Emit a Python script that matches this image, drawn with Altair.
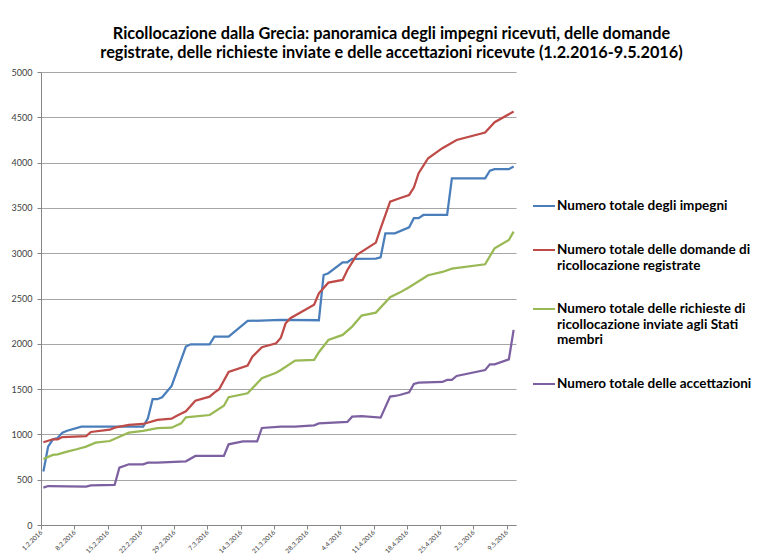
import altair as alt
import pandas as pd

# Series names (| marks a line break in the legend)
names = [
    "Numero totale degli impegni",
    "Numero totale delle domande di|ricollocazione registrate",
    "Numero totale delle richieste di|ricollocazione inviate agli Stati|membri",
    "Numero totale delle accettazioni",
]
colors = ["#4A7EBB", "#BE4B48", "#98B954", "#7D60A0"]

# Day offsets from 1.2.2016 and values
impegni_days = [0, 1, 2, 3, 4, 5, 8, 21, 22, 23, 24, 25, 27, 30, 31, 35, 36, 39, 43, 50, 58, 59, 60, 63, 64, 65,
                70, 71, 72, 74, 77, 78, 79, 80, 85, 86, 93, 94, 95, 98, 99]
impegni_vals = [590, 865, 946, 960, 1020, 1040, 1085, 1085, 1178, 1388, 1388, 1410, 1535, 1969, 1995, 1995, 2079,
                2079, 2252, 2263, 2260, 2760, 2779, 2900, 2900, 2937, 2940, 2955, 3220, 3220, 3286, 3386, 3386,
                3422, 3422, 3827, 3827, 3911, 3927, 3927, 3956]

domande_days = [0, 2, 3, 4, 9, 10, 14, 15, 18, 21, 24, 27, 28, 30, 32, 35, 36, 37, 39, 43, 44, 46, 49, 50, 51, 52,
                57, 58, 60, 63, 64, 66, 70, 71, 73, 75, 77, 78, 79, 81, 84, 87, 93, 95, 99]
domande_vals = [913, 946, 946, 971, 982, 1027, 1052, 1074, 1104, 1115, 1160, 1174, 1203, 1255, 1372, 1417, 1461,
                1498, 1689, 1759, 1858, 1962, 2006, 2068, 2226, 2282, 2432, 2558, 2675, 2705, 2815, 2981, 3117,
                3275, 3569, 3607, 3643, 3724, 3883, 4048, 4159, 4250, 4331, 4446, 4563]

richieste_days = [0, 2, 3, 5, 7, 9, 11, 14, 16, 18, 21, 24, 27, 29, 30, 35, 38, 39, 43, 46, 49, 50, 53, 57, 58, 60,
                  63, 65, 67, 70, 73, 75, 77, 81, 84, 86, 93, 95, 98, 99]
richieste_vals = [729, 773, 780, 810, 836, 865, 909, 927, 975, 1019, 1038, 1070, 1074, 1122, 1189, 1214, 1317, 1410,
                  1454, 1620, 1681, 1711, 1814, 1822, 1907, 2042, 2098, 2190, 2311, 2344, 2514, 2565, 2624, 2757,
                  2793, 2830, 2878, 3055, 3146, 3238]

accett_days = [0, 1, 9, 10, 15, 16, 18, 21, 22, 24, 30, 32, 38, 39, 42, 45, 46, 50, 53, 57, 58, 64, 65, 67, 71, 73,
               74, 75, 77, 78, 79, 84, 85, 86, 87, 93, 94, 95, 98, 99]
accett_vals = [412, 430, 423, 438, 442, 633, 670, 670, 688, 688, 703, 762, 762, 891, 924, 924, 1071, 1085, 1085,
               1100, 1122, 1137, 1196, 1203, 1185, 1417, 1424, 1435, 1465, 1557, 1571, 1579, 1601, 1601, 1645, 1711,
               1774, 1774, 1829, 2153]

tick_dates = ["2016-02-01", "2016-02-08", "2016-02-15", "2016-02-22", "2016-02-29", "2016-03-07", "2016-03-14",
              "2016-03-21", "2016-03-28", "2016-04-04", "2016-04-11", "2016-04-18", "2016-04-25", "2016-05-02",
              "2016-05-09"]
y_ticks = [0, 500, 1000, 1500, 2000, 2500, 3000, 3500, 4000, 4500, 5000]

title_lines = [
    "Ricollocazione dalla Grecia: panoramica degli impegni ricevuti, delle domande",
    "registrate, delle richieste inviate e delle accettazioni ricevute (1.2.2016-9.5.2016)",
]

start = pd.Timestamp("2016-02-01 12:00:00")
frames = []
for name, days, vals in zip(names,
                            [impegni_days, domande_days, richieste_days, accett_days],
                            [impegni_vals, domande_vals, richieste_vals, accett_vals]):
    frames.append(pd.DataFrame({
        "date": [start + pd.Timedelta(days=d) for d in days],
        "value": vals,
        "serie": name,
    }))
df = pd.concat(frames, ignore_index=True)

def dt(s):
    y, m, d = (int(p) for p in s.split("-"))
    return alt.DateTime(year=y, month=m, date=d)

FONT = "Lato"

chart = alt.Chart(df).mark_line(strokeWidth=2.25).encode(
    x=alt.X("date:T",
            scale=alt.Scale(domain=[dt("2016-02-01"), dt("2016-05-11")]),
            axis=alt.Axis(values=[dt(s) for s in tick_dates], format="%-d.%-m.%Y", labelAngle=-45,
                          labelAlign="right", labelBaseline="middle", grid=False, title=None,
                          labelFontSize=6.5, labelColor="#404040", labelFont=FONT,
                          tickColor="#868686", tickSize=4, domainColor="#868686", labelPadding=2)),
    y=alt.Y("value:Q",
            scale=alt.Scale(domain=[0, 5000], nice=False),
            axis=alt.Axis(values=y_ticks, format="d", title=None, grid=True, gridColor="#A6A6A6", gridWidth=1,
                          labelFontSize=9, labelColor="#404040", labelFont=FONT,
                          tickColor="#868686", tickSize=4, domainColor="#868686", labelPadding=5)),
    color=alt.Color("serie:N", sort=names,
                    scale=alt.Scale(domain=names, range=colors),
                    legend=alt.Legend(title=None, orient="none", legendX=491, legendY=122,
                                      labelExpr="split(datum.label, '|')",
                                      symbolType="stroke", symbolStrokeWidth=2, symbolSize=484,
                                      labelFont=FONT, labelFontSize=13.5, labelFontWeight="bold",
                                      labelColor="#000000", labelLimit=400, rowPadding=25,
                                      labelOffset=1, labelBaseline="middle")),
).properties(
    width=475,
    height=453,
    autosize=alt.AutoSizeParams(type="none"),
    padding={"left": 33, "top": 64, "right": 236, "bottom": 30},
    title=alt.Title(title_lines, font=FONT, fontSize=16.3, fontWeight="bold", color="#000000",
                    anchor="middle", frame="group", dx=113, offset=7, lineHeight=19),
).configure_view(stroke=None)

chart.save("out.html", embed_options={"renderer": "svg", "actions": False})
